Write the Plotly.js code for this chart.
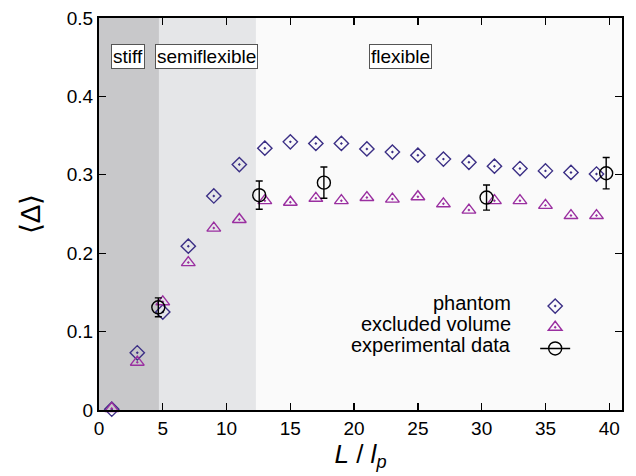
<!DOCTYPE html>
<html>
<head>
<meta charset="utf-8">
<script src="https://cdn.plot.ly/plotly-3.0.1.min.js"></script>
<style>html,body{margin:0;padding:0;background:#fff}#chart{width:636px;height:476px}</style>
</head>
<body>
<div id="chart"></div>
<script>
// x = L / l_p
const simX = [1, 3, 5, 7, 9, 11, 13, 15, 17, 19, 21, 23, 25, 27, 29, 31, 33, 35, 37, 39];
const phantom = [0.001, 0.073, 0.125, 0.209, 0.273, 0.313, 0.334, 0.342, 0.340, 0.340, 0.333, 0.329, 0.325, 0.320, 0.316, 0.311, 0.308, 0.305, 0.303, 0.301];
const excluded = [0.002, 0.061, 0.138, 0.188, 0.232, 0.243, 0.267, 0.265, 0.270, 0.267, 0.271, 0.269, 0.272, 0.263, 0.255, 0.267, 0.267, 0.261, 0.248, 0.248];
const expX = [4.65, 12.56, 17.63, 30.38, 39.76];
const expY = [0.131, 0.274, 0.290, 0.271, 0.302];
const expErr = [0.012, 0.018, 0.020, 0.016, 0.020];
// regime boundaries (stiff | semiflexible | flexible)
const regimeEdges = [0, 4.7, 12.3, 41];
const regimeNames = ['stiff', 'semiflexible', 'flexible'];
const seriesNames = ['phantom', 'excluded volume', 'experimental data'];

const font = "'Liberation Sans', Arial, Helvetica, sans-serif";
const cPhantom = '#3b2f85', cExcl = '#9a2fa0';

const traces = [
  {x: simX, y: phantom, type: 'scatter', mode: 'markers', name: '', legendrank: 1, cliponaxis: false,
   hovertext: seriesNames[0],
   marker: {symbol: 'diamond-open-dot', size: 11, color: cPhantom, line: {width: 1.4}}},
  {x: simX, y: excluded, type: 'scatter', mode: 'markers', name: '', legendrank: 2, cliponaxis: false,
   hovertext: seriesNames[1],
   marker: {symbol: 'triangle-up-open-dot', size: 12, color: cExcl, line: {width: 1.4}}},
  {x: expX, y: expY, type: 'scatter', mode: 'markers', name: seriesNames[2], showlegend: false, cliponaxis: false,
   marker: {symbol: 'circle-open', size: 13, color: '#000', line: {width: 1.4}},
   error_y: {type: 'data', array: expErr, visible: true, color: '#000', thickness: 1.4, width: 3.5}},
  // legend key for the experimental data (point with horizontal error bar), no data of its own
  {x: [null], y: [null], type: 'scatter', mode: 'lines+markers', name: '', legendrank: 3,
   line: {color: '#000', width: 1.4},
   marker: {symbol: 'circle-open', size: 13, color: '#000', line: {width: 1.4}}}
];

const shadeColors = ['#c8c8ca', '#e5e6e8'];
const shapes = [];
for (let i = 0; i < 2; i++) {
  shapes.push({type: 'rect', xref: 'x', yref: 'paper', x0: regimeEdges[i], x1: regimeEdges[i + 1], y0: 0, y1: 1,
    fillcolor: shadeColors[i], line: {width: 0}, layer: 'below'});
}
const labelX = [2.3, 8.45, 23.6];
const annotations = regimeNames.map((t, i) => ({
  x: labelX[i], y: 0.451, xref: 'x', yref: 'y', text: t, showarrow: false,
  font: {family: font, size: 19, color: '#000'}, bgcolor: '#fff', bordercolor: '#555', borderwidth: 1, borderpad: 1
}));
// legend labels, right-aligned to the left of the keys
const legendRowsY = [0.2734, 0.2199, 0.1664];
seriesNames.forEach((t, i) => annotations.push({
  x: 0.792, y: legendRowsY[i], xref: 'paper', yref: 'paper', xanchor: 'right', yanchor: 'middle',
  text: t, showarrow: false, font: {family: font, size: 20, color: '#000'}
}));

const layout = {
  width: 636, height: 476,
  margin: {l: 99, r: 14, t: 18, b: 66},
  paper_bgcolor: '#fff', plot_bgcolor: '#fafafa',
  font: {family: font, size: 19, color: '#000'},
  showlegend: true,
  legend: {x: 0.834, xanchor: 'left', y: 0.305, yanchor: 'top', bgcolor: 'rgba(0,0,0,0)',
           font: {family: font, size: 14}, tracegroupgap: 0, traceorder: 'normal'},
  xaxis: {range: [0, 41], dtick: 5, tick0: 0, ticks: 'inside', ticklen: 7, tickwidth: 1.3, tickcolor: '#000',
          showline: true, linecolor: '#000', linewidth: 2, mirror: 'ticks', showgrid: false, zeroline: false,
          tickfont: {size: 19},
          title: {text: '<i>L</i> / <i>l</i><sub><i>p</i></sub>', font: {size: 26}, standoff: 6}},
  yaxis: {range: [0, 0.5], dtick: 0.1, tick0: 0, ticks: 'inside', ticklen: 7, tickwidth: 1.3, tickcolor: '#000',
          showline: true, linecolor: '#000', linewidth: 2, mirror: 'ticks', showgrid: false, zeroline: false,
          tickfont: {size: 19},
          title: {text: '\u27E8\u0394\u27E9', font: {size: 28}, standoff: 18}},
  shapes: shapes,
  annotations: annotations
};

Plotly.newPlot('chart', traces, layout, {displayModeBar: false, staticPlot: true});
</script>
</body>
</html>
